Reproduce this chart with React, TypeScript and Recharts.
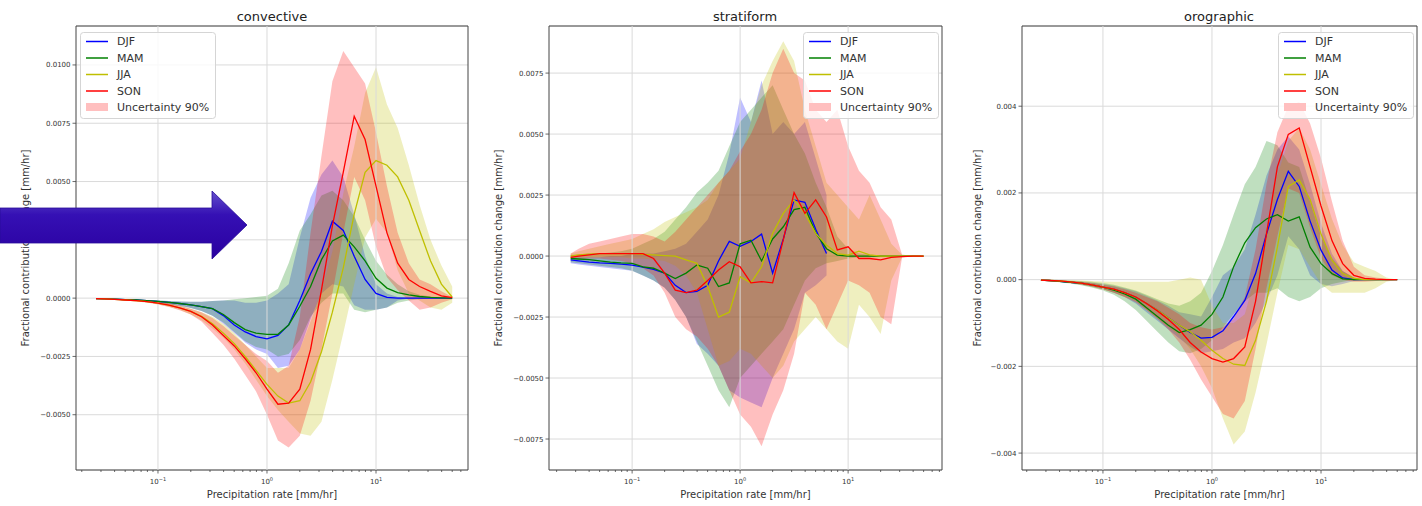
import React from 'react';
import { ComposedChart, Line, Area, XAxis, YAxis, CartesianGrid, ReferenceLine, ReferenceArea } from 'recharts';

const FONT = '"DejaVu Sans", Verdana, sans-serif';

// precipitation rate bins [mm/hr]
const rates = [0.027, 0.032, 0.04, 0.05, 0.063, 0.079, 0.1, 0.126, 0.158, 0.2, 0.251, 0.316, 0.398, 0.501, 0.631, 0.794, 1, 1.26, 1.58, 2, 2.51, 3.16, 3.98, 5.01, 6.31, 7.94, 10, 12.6, 15.8, 20, 25.1, 31.6, 39.8, 50];

const xTicks = [0.02, 0.03, 0.04, 0.05, 0.06, 0.07, 0.08, 0.09, 0.1, 0.2, 0.3, 0.4, 0.5, 0.6, 0.7, 0.8, 0.9, 1, 2, 3, 4, 5, 6, 7, 8, 9, 10, 20, 30, 40, 50, 60, 70];
const xMajor = [0.1, 1, 10];
const xMajorExp = ['\u22121', '0', '1'];

const seasons = ['DJF', 'MAM', 'JJA', 'SON'];
const seasonColors = ['#0000ff', '#008000', '#bfbf00', '#ff0000'];

// values in 1e-3 mm/hr
// convective
const convDJF = [-0.02, -0.03, -0.04, -0.06, -0.08, -0.11, -0.14, -0.18, -0.23, -0.29, -0.36, -0.45, -0.75, -1.15, -1.45, -1.65, -1.75, -1.6, -1.15, -0.1, 1.05, 2.0, 3.3, 2.9, 1.8, 0.8, 0.2, 0.03, 0, 0, 0, 0, 0, 0];
const convDJFLo = [-0.03, -0.04, -0.06, -0.08, -0.11, -0.15, -0.2, -0.26, -0.33, -0.42, -0.55, -0.75, -1.1, -1.5, -1.9, -2.2, -2.4, -3.0, -2.9, -2.2, -0.9, 0.2, 0.6, 0.5, -0.3, -0.5, -0.5, -0.4, -0.1, -0.02, -0.02, -0.01, -0.01, 0];
const convDJFHi = [-0.01, -0.02, -0.03, -0.04, -0.06, -0.08, -0.1, -0.12, -0.14, -0.15, -0.15, -0.12, -0.1, -0.1, -0.2, -0.2, -0.1, 0.2, 0.6, 2.6, 4.3, 5.3, 5.9, 5.2, 3.6, 1.8, 0.6, 0.2, 0.05, 0.02, 0.02, 0.01, 0.01, 0];
const convMAM = [-0.02, -0.03, -0.04, -0.06, -0.08, -0.11, -0.14, -0.18, -0.23, -0.29, -0.36, -0.45, -0.7, -1.05, -1.35, -1.5, -1.55, -1.55, -1.15, -0.35, 0.5, 1.65, 2.45, 2.7, 2.2, 1.6, 0.85, 0.43, 0.24, 0.14, 0.07, 0.03, 0.01, 0];
const convMAMLo = [-0.03, -0.04, -0.06, -0.08, -0.11, -0.15, -0.2, -0.26, -0.33, -0.42, -0.55, -0.75, -1.05, -1.45, -1.85, -2.1, -2.2, -2.5, -2.4, -1.8, -0.8, -0.2, 0.2, 0.2, -0.5, -0.6, -0.5, -0.4, -0.2, -0.1, -0.05, -0.02, -0.01, 0];
const convMAMHi = [-0.01, -0.02, -0.03, -0.04, -0.06, -0.08, -0.1, -0.12, -0.14, -0.15, -0.15, -0.12, -0.1, -0.05, 0, 0.05, 0.1, 0.4, 1.5, 2.9, 3.6, 4.4, 4.6, 4.2, 3.5, 2.5, 1.6, 1.0, 0.6, 0.3, 0.15, 0.07, 0.02, 0];
const convJJA = [-0.02, -0.03, -0.05, -0.08, -0.11, -0.15, -0.21, -0.3, -0.42, -0.57, -0.78, -1.1, -1.5, -1.95, -2.5, -3.1, -3.7, -4.2, -4.5, -4.4, -3.6, -2.3, -0.6, 1.3, 3.6, 5.4, 5.9, 5.7, 5.2, 4.2, 2.9, 1.6, 0.6, 0.05];
const convJJALo = [-0.03, -0.04, -0.06, -0.1, -0.14, -0.19, -0.26, -0.37, -0.5, -0.7, -0.95, -1.3, -1.7, -2.2, -2.8, -3.5, -4.2, -4.8, -5.3, -5.8, -5.9, -5.3, -3.5, -1.5, 0.6, 2.6, 3.4, 2.8, 1.2, 0.2, -0.1, -0.4, -0.5, -0.2];
const convJJAHi = [-0.01, -0.02, -0.04, -0.06, -0.08, -0.11, -0.16, -0.23, -0.33, -0.45, -0.6, -0.8, -1.1, -1.5, -2.0, -2.5, -3.0, -3.0, -3.0, -2.2, -1.0, 0.3, 2.0, 4.5, 6.5, 8.8, 9.9, 8.3, 7.3, 5.7, 4.0, 2.5, 1.4, 0.5];
const convSON = [-0.02, -0.03, -0.05, -0.08, -0.11, -0.15, -0.21, -0.3, -0.42, -0.57, -0.8, -1.15, -1.6, -2.05, -2.6, -3.2, -3.9, -4.55, -4.5, -3.9, -2.2, 0.35, 3.1, 5.4, 7.8, 6.8, 4.8, 2.8, 1.5, 0.8, 0.5, 0.29, 0.1, 0.02];
const convSONLo = [-0.03, -0.04, -0.06, -0.1, -0.14, -0.19, -0.27, -0.38, -0.52, -0.7, -1.0, -1.5, -2.0, -2.6, -3.3, -4.0, -5.0, -6.1, -6.4, -5.9, -4.4, -2.2, 0.2, 2.8, 5.2, 4.2, 2.2, 0.9, 0.35, -0.1, -0.5, -0.4, -0.2, -0.05];
const convSONHi = [-0.01, -0.02, -0.04, -0.06, -0.08, -0.11, -0.16, -0.22, -0.32, -0.45, -0.6, -0.85, -1.2, -1.6, -2.0, -2.4, -2.7, -3.2, -2.9, -0.8, 2.8, 6.1, 9.3, 10.6, 9.9, 9.2, 7.1, 4.8, 2.8, 1.5, 0.8, 0.6, 0.3, 0.05];

// stratiform
const stratDJF = [-0.16, -0.2, -0.25, -0.28, -0.3, -0.33, -0.37, -0.45, -0.55, -0.7, -1.2, -1.5, -1.45, -1.2, -0.2, 0.6, 0.4, 0.6, 0.9, -0.7, 0.7, 2.3, 2.2, 1.1, 0.1, null, null, null, null, null, null, null, null, null];
const stratDJFLo = [-0.3, -0.35, -0.4, -0.45, -0.5, -0.55, -0.6, -0.8, -1.0, -1.3, -1.8, -2.5, -3.6, -4.0, -4.5, -5.5, -5.8, -6.0, -6.2, -5.0, -4.0, -3.0, -1.5, -1.2, -0.8, null, null, null, null, null, null, null, null, null];
const stratDJFHi = [-0.05, -0.05, -0.05, -0.05, 0, 0, 0.1, 0.1, 0.1, 0.2, 0.3, 0.5, 1.0, 1.5, 2.5, 4.2, 6.5, 5.5, 7.2, 5.0, 5.5, 5.0, 5.5, 4.0, 2.5, null, null, null, null, null, null, null, null, null];
const stratMAM = [-0.1, -0.12, -0.15, -0.2, -0.25, -0.28, -0.3, -0.44, -0.5, -0.7, -0.92, -0.7, -0.37, -0.5, -1.25, -1.1, 0.5, 0.65, -0.2, 0.7, 1.2, 1.9, 2.0, 0.95, 0.3, 0.04, 0, 0, 0, 0, 0, 0, 0, 0];
const stratMAMLo = [-0.25, -0.3, -0.35, -0.4, -0.45, -0.5, -0.6, -0.8, -1.0, -1.3, -1.8, -2.5, -3.5, -4.5, -5.5, -6.2, -5.0, -4.5, -4.0, -3.5, -3.0, -2.0, -1.0, -0.5, -0.3, -0.2, -0.1, -0.05, -0.05, -0.03, -0.02, -0.01, -0.01, 0];
const stratMAMHi = [0.05, 0.05, 0.1, 0.1, 0.15, 0.2, 0.3, 0.5, 0.7, 1.0, 1.5, 2.0, 2.6, 3.0, 3.5, 4.5, 5.5, 6.0, 6.5, 7.0, 6.0, 5.0, 4.2, 3.0, 2.0, 0.8, 0.3, 0.1, 0.05, 0.03, 0.02, 0.01, 0.01, 0];
const stratJJA = [0, 0.05, 0.08, 0.1, 0.1, 0.1, 0.1, 0.07, 0.05, 0.02, 0, -0.16, -0.3, -1.25, -2.5, -2.3, -0.85, -1.1, -0.44, 0.93, 1.75, 2.3, 1.75, 0.93, 0.45, 0.1, 0.04, 0.2, 0.05, 0, 0, 0, 0, 0];
const stratJJALo = [-0.05, -0.05, -0.05, -0.05, -0.05, -0.05, -0.1, -0.1, -0.15, -0.2, -0.4, -0.8, -1.5, -3.0, -4.5, -4.3, -3.8, -4.0, -4.5, -5.0, -4.5, -3.5, -3.0, -2.5, -3.0, -3.5, -3.8, -2.0, -2.5, -3.2, -1.0, -0.05, -0.02, 0];
const stratJJAHi = [0.1, 0.2, 0.3, 0.4, 0.5, 0.6, 0.7, 0.9, 1.1, 1.4, 1.6, 1.8, 2.0, 2.3, 3.0, 3.5, 4.0, 5.5, 7.0, 8.0, 8.8, 8.0, 6.0, 4.5, 3.0, 2.5, 2.0, 1.5, 2.5, 1.5, 0.5, 0.05, 0.02, 0];
const stratSON = [-0.05, 0, 0.05, 0.1, 0.1, 0.1, 0.1, 0.1, -0.1, -0.7, -1.4, -1.5, -1.4, -1.0, -0.57, -0.23, -0.44, -1.1, -1.05, -1.1, 0.66, 2.6, 1.75, 2.3, 1.6, 0.25, 0.38, -0.1, -0.1, -0.16, -0.05, -0.02, 0, 0];
const stratSONLo = [-0.1, -0.15, -0.1, -0.1, -0.15, -0.2, -0.3, -0.5, -0.8, -1.5, -2.5, -3.0, -3.3, -3.8, -4.5, -5.5, -6.5, -7.0, -7.8, -6.5, -5.5, -4.0, -1.5, -2.0, -3.0, -2.0, -1.0, -1.2, -1.5, -2.5, -2.8, -0.05, -0.02, -0.01];
const stratSONHi = [0.1, 0.3, 0.5, 0.6, 0.7, 0.8, 0.9, 0.9, 0.8, 0.6, 1.0, 1.5, 2.0, 2.5, 3.0, 3.5, 4.3, 5.0, 6.0, 7.5, 8.5, 7.5, 7.2, 6.0, 5.5, 6.0, 4.5, 3.5, 3.0, 2.0, 1.5, 0.05, 0.02, 0.01];

// orographic
const oroDJF = [-0.01, -0.02, -0.04, -0.06, -0.08, -0.12, -0.17, -0.22, -0.3, -0.4, -0.55, -0.7, -0.88, -1.05, -1.22, -1.35, -1.33, -1.18, -0.85, -0.48, 0.14, 1.05, 1.85, 2.5, 2.15, 1.35, 0.68, 0.22, 0.04, 0, 0, 0, 0, 0];
const oroDJFLo = [-0.02, -0.03, -0.05, -0.08, -0.11, -0.16, -0.22, -0.3, -0.4, -0.55, -0.75, -0.95, -1.15, -1.35, -1.55, -1.7, -1.65, -1.6, -1.45, -1.35, -1.0, -0.5, 0.1, 1.0, 0.7, 0.1, -0.1, -0.15, -0.1, -0.03, 0, 0, 0, 0];
const oroDJFHi = [0, -0.01, -0.02, -0.03, -0.05, -0.07, -0.1, -0.14, -0.2, -0.27, -0.37, -0.48, -0.6, -0.75, -0.8, -0.85, -0.4, 0.1, 0.3, 0.7, 1.5, 2.4, 3.0, 3.3, 3.0, 2.2, 1.3, 0.6, 0.2, 0.05, 0, 0, 0, 0];
const oroMAM = [-0.01, -0.02, -0.04, -0.06, -0.08, -0.12, -0.17, -0.24, -0.33, -0.45, -0.65, -0.85, -1.05, -1.22, -1.15, -1.05, -0.8, -0.4, 0.3, 0.85, 1.2, 1.4, 1.5, 1.35, 1.45, 0.75, 0.37, 0.14, 0.02, 0, 0, 0, 0, 0];
const oroMAMLo = [-0.02, -0.03, -0.06, -0.09, -0.13, -0.18, -0.25, -0.35, -0.5, -0.7, -0.95, -1.2, -1.45, -1.65, -1.7, -1.6, -1.4, -1.1, -0.8, -0.5, -0.3, -0.3, -0.2, -0.4, -0.5, -0.4, -0.2, -0.1, -0.05, 0, 0, 0, 0, 0];
const oroMAMHi = [0, 0, -0.01, -0.02, -0.03, -0.05, -0.08, -0.12, -0.18, -0.25, -0.35, -0.45, -0.55, -0.6, -0.5, -0.3, 0.2, 0.8, 1.5, 2.2, 2.6, 3.2, 3.1, 2.7, 2.6, 1.8, 1.0, 0.5, 0.2, 0.05, 0, 0, 0, 0];
const oroJJA = [-0.01, -0.02, -0.03, -0.05, -0.08, -0.12, -0.17, -0.22, -0.3, -0.4, -0.55, -0.7, -0.88, -1.05, -1.2, -1.4, -1.63, -1.82, -1.95, -1.98, -1.4, -0.5, 0.75, 2.15, 2.3, 1.85, 1.05, 0.45, 0.14, 0.03, 0, 0, 0, 0];
const oroJJALo = [-0.02, -0.03, -0.05, -0.08, -0.12, -0.17, -0.23, -0.3, -0.4, -0.5, -0.7, -0.9, -1.1, -1.3, -1.6, -2.0, -2.5, -3.2, -3.8, -3.5, -2.6, -1.5, -0.3, 0.8, 0.7, 0.3, -0.1, -0.3, -0.3, -0.3, -0.3, -0.2, -0.05, 0];
const oroJJAHi = [0, 0, -0.01, -0.02, -0.02, -0.03, -0.04, -0.05, -0.05, -0.05, -0.05, -0.05, -0.05, 0, 0.05, 0, -0.6, -1.0, -1.0, -0.8, 0.1, 1.2, 2.4, 3.2, 3.5, 3.0, 2.2, 1.4, 0.8, 0.4, 0.3, 0.2, 0.05, 0];
const oroSON = [-0.01, -0.02, -0.03, -0.05, -0.08, -0.12, -0.17, -0.22, -0.3, -0.4, -0.55, -0.72, -0.92, -1.15, -1.45, -1.67, -1.82, -1.9, -1.82, -1.55, -0.5, 1.05, 2.6, 3.35, 3.5, 2.6, 1.7, 0.9, 0.37, 0.1, 0.03, 0.01, 0, 0];
const oroSONLo = [-0.02, -0.03, -0.05, -0.08, -0.11, -0.16, -0.22, -0.3, -0.4, -0.52, -0.7, -0.9, -1.15, -1.45, -1.85, -2.3, -2.7, -3.1, -3.2, -2.8, -1.6, -0.2, 1.0, 2.1, 2.0, 1.2, 0.5, 0.1, 0, -0.05, -0.05, -0.03, 0, 0];
const oroSONHi = [0, -0.01, -0.02, -0.03, -0.05, -0.08, -0.12, -0.16, -0.22, -0.3, -0.4, -0.5, -0.65, -0.8, -1.0, -1.1, -1.15, -1.1, -0.9, -0.4, 0.7, 2.2, 3.4, 4.0, 4.1, 3.6, 2.8, 1.8, 0.9, 0.3, 0.1, 0.05, 0.02, 0];

const convTicks = [-5, -2.5, 0, 2.5, 5, 7.5, 10];
const stratTicks = [-7.5, -5, -2.5, 0, 2.5, 5, 7.5];
const oroTicks = [-4, -2, 0, 2, 4];

type Num = number | null;

const buildRows = (lines: Num[][], lows: Num[][], highs: Num[][]) =>
  rates.map((rate, i) => {
    const row: any = { rate };
    seasons.forEach((s, k) => {
      row[s] = lines[k][i];
      const lo = lows[k][i];
      const hi = highs[k][i];
      row[s + 'band'] = lo == null || hi == null ? null : [lo, hi];
    });
    return row;
  });

const convRows = buildRows([convDJF, convMAM, convJJA, convSON], [convDJFLo, convMAMLo, convJJALo, convSONLo], [convDJFHi, convMAMHi, convJJAHi, convSONHi]);
const stratRows = buildRows([stratDJF, stratMAM, stratJJA, stratSON], [stratDJFLo, stratMAMLo, stratJJALo, stratSONLo], [stratDJFHi, stratMAMHi, stratJJAHi, stratSONHi]);
const oroRows = buildRows([oroDJF, oroMAM, oroJJA, oroSON], [oroDJFLo, oroMAMLo, oroJJALo, oroSONLo], [oroDJFHi, oroMAMHi, oroJJAHi, oroSONHi]);

const LogTick = (props: any) => {
  const { x, y, payload } = props;
  const idx = xMajor.indexOf(payload.value);
  const major = idx >= 0;
  return (
    <g>
      <line x1={x} x2={x} y1={y} y2={y + (major ? 3.5 : 2)} stroke="#444" strokeWidth={0.8} />
      {major && (
        <text x={x} y={y + 14} textAnchor="middle" fontSize={7} fill="#333">
          10<tspan dy={-3} fontSize={5}>{xMajorExp[idx]}</tspan>
        </text>
      )}
    </g>
  );
};

type PanelProps = {
  rows: any[];
  left: number;
  width: number;
  mLeft: number;
  mRight: number;
  xDomain: [number, number];
  yDomain: [number, number];
  yTicks: number[];
  digits: number;
};

const Panel = ({ rows, left, width, mLeft, mRight, xDomain, yDomain, yTicks, digits }: PanelProps) => {
  const ticks = xTicks.filter((t) => t >= xDomain[0] && t <= xDomain[1]);
  const fmt = (v: number) => (v / 1000).toFixed(digits).replace('-', '\u2212');
  return (
    <div style={{ position: 'absolute', left, top: 0 }}>
      <ComposedChart
        width={width}
        height={506}
        data={rows}
        margin={{ top: 26, right: mRight, bottom: 0, left: mLeft }}
        style={{ fontFamily: FONT }}
      >
        <CartesianGrid vertical={false} stroke="#dadada" />
        {xMajor.map((v) => (
          <ReferenceLine key={v} x={v} stroke="#dadada" />
        ))}
        <XAxis
          dataKey="rate"
          type="number"
          scale="log"
          domain={xDomain}
          allowDataOverflow
          ticks={ticks}
          interval={0}
          tick={<LogTick />}
          tickSize={0}
          tickMargin={0}
          tickLine={false}
          axisLine={false}
          height={36}
          label={{ value: 'Precipitation rate [mm/hr]', position: 'insideBottom', offset: 8, fontSize: 10, fill: '#333' }}
        />
        <YAxis
          type="number"
          domain={yDomain}
          allowDataOverflow
          ticks={yTicks}
          interval={0}
          width={50}
          axisLine={false}
          tickSize={3.5}
          tickMargin={2}
          tickLine={{ stroke: '#444', strokeWidth: 0.8 }}
          tick={{ fontSize: 7, fill: '#333' }}
          tickFormatter={fmt}
        />
        {seasons.map((s, k) => (
          <Area
            key={s + 'band'}
            type="linear"
            dataKey={s + 'band'}
            stroke="none"
            fill={seasonColors[k]}
            fillOpacity={0.25}
            isAnimationActive={false}
            activeDot={false}
          />
        ))}
        {seasons.map((s, k) => (
          <Line
            key={s}
            type="linear"
            dataKey={s}
            stroke={seasonColors[k]}
            strokeWidth={1.3}
            dot={false}
            activeDot={false}
            isAnimationActive={false}
          />
        ))}
        <ReferenceArea
          x1={xDomain[0]}
          x2={xDomain[1]}
          y1={yDomain[0]}
          y2={yDomain[1]}
          fill="none"
          stroke="#444"
          strokeWidth={1}
          ifOverflow="visible"
        />
      </ComposedChart>
    </div>
  );
};

const LegendBox = ({ left }: { left: number }) => (
  <svg
    width={136}
    height={87}
    style={{ position: 'absolute', left, top: 32, fontFamily: FONT, overflow: 'visible' }}
  >
    <rect x={0.5} y={0.5} width={135} height={86} rx={3} fill="#fff" fillOpacity={0.82} stroke="#d5d5d5" />
    {seasons.map((s, k) => (
      <g key={s}>
        <line x1={6} x2={28} y1={9.5 + k * 16.5} y2={9.5 + k * 16.5} stroke={seasonColors[k]} strokeWidth={1.5} />
        <text x={37} y={9.5 + k * 16.5} dominantBaseline="central" fontSize={11} fill="#333">{s}</text>
      </g>
    ))}
    <rect x={6} y={71} width={22} height={8} fill="#ffbfbf" />
    <text x={37} y={75.5} dominantBaseline="central" fontSize={11} fill="#333">Uncertainty 90%</text>
  </svg>
);

const titles = [
  { text: 'convective', x: 272, ylab: 25 },
  { text: 'stratiform', x: 745, ylab: 498 },
  { text: 'orographic', x: 1219, ylab: 977 },
];

export default function App() {
  return (
    <div style={{ position: 'absolute', left: 0, top: 0, width: 1422, height: 506, background: '#fff', overflow: 'hidden' }}>
      <Panel rows={convRows} left={0} width={470} mLeft={26} mRight={2} xDomain={[0.0177, 69.8]} yDomain={[-7.37, 11.67]} yTicks={convTicks} digits={4} />
      <Panel rows={stratRows} left={480} width={470} mLeft={19} mRight={8} xDomain={[0.017, 74]} yDomain={[-8.77, 9.43]} yTicks={stratTicks} digits={4} />
      <Panel rows={oroRows} left={960} width={462} mLeft={12} mRight={5} xDomain={[0.0181, 75.9]} yDomain={[-4.39, 5.85]} yTicks={oroTicks} digits={3} />
      <LegendBox left={80} />
      <LegendBox left={803} />
      <LegendBox left={1278} />
      <svg width={1422} height={506} style={{ position: 'absolute', left: 0, top: 0, pointerEvents: 'none', fontFamily: FONT }}>
        <defs>
          <linearGradient id="arrowGrad" x1="0" y1="0" x2="0" y2="1">
            <stop offset="0" stopColor="#6450cc" />
            <stop offset="0.35" stopColor="#3510b4" />
            <stop offset="1" stopColor="#2a00a0" />
          </linearGradient>
        </defs>
        {titles.map((t) => (
          <g key={t.text}>
            <text x={t.x} y={21} textAnchor="middle" fontSize={13} fill="#222">{t.text}</text>
            <text
              x={t.ylab}
              y={248}
              textAnchor="middle"
              dominantBaseline="central"
              fontSize={10}
              fill="#333"
              transform={`rotate(-90 ${t.ylab} 248)`}
            >
              Fractional contribution change [mm/hr]
            </text>
          </g>
        ))}
        <polygon
          points="0,208 212,208 212,191 247,225 212,259 212,243 0,243"
          fill="url(#arrowGrad)"
          stroke="#2a0e9a"
          strokeWidth={0.8}
        />
      </svg>
    </div>
  );
}
